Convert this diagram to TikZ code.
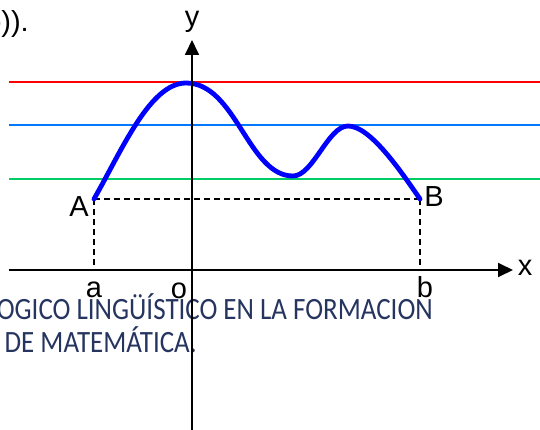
\documentclass[tikz,border=0pt]{standalone}
\usepackage{fontspec}
\usepackage{graphicx}
\setmainfont{Liberation Sans}
\newfontfamily\bodyfont{Carlito}
\usetikzlibrary{arrows.meta}
\definecolor{curveblue}{RGB}{0,0,255}
\definecolor{lineblue}{RGB}{0,120,255}
\definecolor{linegreen}{RGB}{0,204,102}
\definecolor{linered}{RGB}{255,0,0}
\definecolor{textnavy}{RGB}{38,52,96}
\newcommand{\bodytext}[1]{\scalebox{0.87}[1]{\bodyfont\fontsize{31}{33}\selectfont #1}}
\begin{document}
\begin{tikzpicture}[x=1pt,y=-1pt,
  lbl/.style={font=\fontsize{29}{32}\selectfont, inner sep=0pt},
  body/.style={text=textnavy, inner sep=0pt, anchor=base east},
  axis/.style={line width=1.8pt, -{Triangle[length=15pt,width=14pt]}},
  level/.style={line width=2.5pt},
  guide/.style={line width=1.5pt, dash pattern=on 6pt off 4pt},
  graph/.style={line width=4.8pt, curveblue, line cap=round}]
\useasboundingbox (0,0) rectangle (540,430);
% cut-off text at the top left
\node[lbl, anchor=base east] (top) at (29,32) {f(b)).};
% paragraph text behind the axes
\node[body] (t1) at (433,319) {\bodytext{OGICO LINGÜÍSTICO EN LA FORMACION}};
\node[body] (t2) at (197,352) {\bodytext{DE MATEMÁTICA.}};
% horizontal level lines
\coordinate (rl) at (8.6,82);  \coordinate (rr) at (545,82);
\coordinate (bl) at (8.6,125); \coordinate (br) at (545,125);
\coordinate (gl) at (8.6,179); \coordinate (gr) at (545,179);
\draw[level, linered] (rl) -- (rr);
\draw[level, lineblue] (bl) -- (br);
\draw[level, linegreen] (gl) -- (gr);
% key points
\coordinate (A) at (94,199);
\coordinate (B) at (420,199);
\coordinate (P) at (186,83);
\coordinate (M) at (293,176);
\coordinate (Q) at (348,126);
\coordinate (fa) at (94,270);
\coordinate (fb) at (420,270);
% dashed guides
\draw[guide] (A) -- (B);
\draw[guide] (A) -- (fa);
\draw[guide] (B) -- (fb);
% the graph
\draw[graph] (A) .. controls (122,150) and (150,83) .. (P)
  .. controls (236,83) and (248,176) .. (M)
  .. controls (313,176) and (328,126) .. (Q)
  .. controls (370,126) and (400,170) .. (B);
% axes
\coordinate (xl) at (8.6,270); \coordinate (xr) at (513,270);
\coordinate (yb) at (192,435); \coordinate (yt) at (192,40);
\draw[axis] (xl) -- (xr);
\draw[axis] (yb) -- (yt);
% labels
\node[lbl] (lA) at (79,207) {A};
\node[lbl] (lB) at (434,197) {B};
\node[lbl, anchor=base] (la) at (94,297) {a};
\node[lbl, anchor=base] (lo) at (179,298) {o};
\node[lbl, anchor=base] (lb) at (425,297) {b};
\node[lbl, anchor=base] (lx) at (525,275) {x};
\node[lbl, anchor=base] (ly) at (192,27) {y};
\end{tikzpicture}
\end{document}
